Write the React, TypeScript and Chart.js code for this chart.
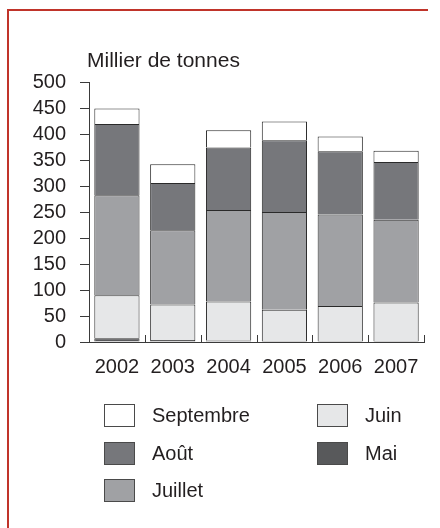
import React, { useEffect, useRef } from "react";
import { Chart, registerables } from "chart.js";

Chart.register(...registerables);

const years = ["2002", "2003", "2004", "2005", "2006", "2007"];
const mai = [7, 4, 3, 2, 2, 2];
const juin = [83, 68, 75, 60, 67, 74];
const juillet = [192, 143, 176, 188, 176, 159];
const aout = [137, 91, 120, 138, 122, 111];
const septembre = [30, 36, 33, 36, 28, 22];
const yMin = 0;
const yMax = 500;
const yStep = 50;
const unitLabel = "Millier de tonnes";

const seriesNames = ["Mai", "Juin", "Juillet", "Août", "Septembre"];
const seriesColors = ["#58595b", "#e6e7e8", "#a0a1a4", "#76777b", "#ffffff"];
const seriesValues = [mai, juin, juillet, aout, septembre];

// legend layout: [series index, column, row]
const legendOrder = [
  [4, 0, 0],
  [1, 1, 0],
  [3, 0, 1],
  [0, 1, 1],
  [2, 0, 2],
];

const FONT = '"Liberation Sans", Arial, Helvetica, sans-serif';
const TEXT = "#231f20";
const LINE = "#3a3a3a";
const FRAME = "#c0342a";

const extrasPlugin = {
  id: "extras",
  beforeDraw(chart: any) {
    const { ctx, height } = chart;
    ctx.save();
    ctx.fillStyle = FRAME;
    ctx.fillRect(7, 9, 421, 2);
    ctx.fillRect(7, 9, 2, height - 9);
    ctx.restore();
  },
  afterDraw(chart: any) {
    const { ctx, chartArea } = chart;
    const xs = chart.scales.x;
    const n = years.length;
    ctx.save();
    ctx.strokeStyle = LINE;
    ctx.lineWidth = 1;
    const w = (xs.right - xs.left) / n;
    for (let i = 0; i <= n; i++) {
      const x = Math.round(xs.left + i * w) + 0.5;
      ctx.beginPath();
      ctx.moveTo(x, chartArea.bottom);
      ctx.lineTo(x, chartArea.bottom - 7);
      ctx.stroke();
    }
    ctx.fillStyle = TEXT;
    ctx.font = `21px ${FONT}`;
    ctx.textAlign = "left";
    ctx.textBaseline = "alphabetic";
    ctx.fillText(unitLabel, chartArea.left - 2, chartArea.top - 15);
    ctx.restore();
  },
};

export default function App() {
  const ref = useRef<HTMLCanvasElement | null>(null);

  useEffect(() => {
    if (!ref.current) return;
    const chart = new Chart(ref.current, {
      type: "bar",
      data: {
        labels: years,
        datasets: seriesValues.map((vals, i) => ({
          label: seriesNames[i],
          data: vals,
          backgroundColor: seriesColors[i],
          borderColor: "#2a2a2a",
          borderWidth: { top: 1, left: 1, right: 1, bottom: 0 },
          borderSkipped: false,
          barPercentage: 0.81,
          categoryPercentage: 1,
        })),
      },
      options: {
        responsive: false,
        animation: false,
        devicePixelRatio: 1,
        layout: { padding: { left: 0, right: 16, top: 82, bottom: 0 } },
        plugins: {
          legend: { display: false },
          tooltip: { enabled: false },
          title: { display: false },
        },
        scales: {
          x: {
            stacked: true,
            offset: true,
            grid: { display: false, drawOnChartArea: false, drawTicks: false },
            border: { display: true, color: LINE, width: 1 },
            ticks: { color: TEXT, font: { family: FONT, size: 20 }, padding: 13 },
            afterFit: (s: any) => {
              s.height = 186;
            },
          },
          y: {
            stacked: true,
            min: yMin,
            max: yMax,
            grid: { drawOnChartArea: false, drawTicks: true, tickLength: 9, color: LINE },
            border: { display: true, color: LINE, width: 1 },
            ticks: {
              stepSize: yStep,
              autoSkip: false,
              color: TEXT,
              padding: 14,
              font: { family: FONT, size: 20 },
            },
            afterFit: (s: any) => {
              s.width = 89;
            },
          },
        },
      },
      plugins: [extrasPlugin],
    });
    return () => chart.destroy();
  }, []);

  return (
    <div
      style={{
        position: "fixed",
        left: 0,
        top: 0,
        width: 440,
        height: 528,
        background: "#fff",
        overflow: "hidden",
        fontFamily: FONT,
      }}
    >
      <canvas
        ref={ref}
        width={440}
        height={528}
        style={{ position: "absolute", left: 0, top: 0, width: 440, height: 528 }}
      />
      {legendOrder.map(([si, col, row]) => (
        <div
          key={si}
          style={{
            position: "absolute",
            left: col === 0 ? 104 : 317,
            top: 404 + row * 37.5,
            height: 23,
            display: "flex",
            alignItems: "center",
          }}
        >
          <div
            style={{
              width: 29,
              height: 21,
              background: seriesColors[si],
              border: "1px solid #4a4a4a",
            }}
          />
          <span
            style={{
              marginLeft: 17,
              fontSize: 20,
              color: TEXT,
              lineHeight: "23px",
            }}
          >
            {seriesNames[si]}
          </span>
        </div>
      ))}
    </div>
  );
}
